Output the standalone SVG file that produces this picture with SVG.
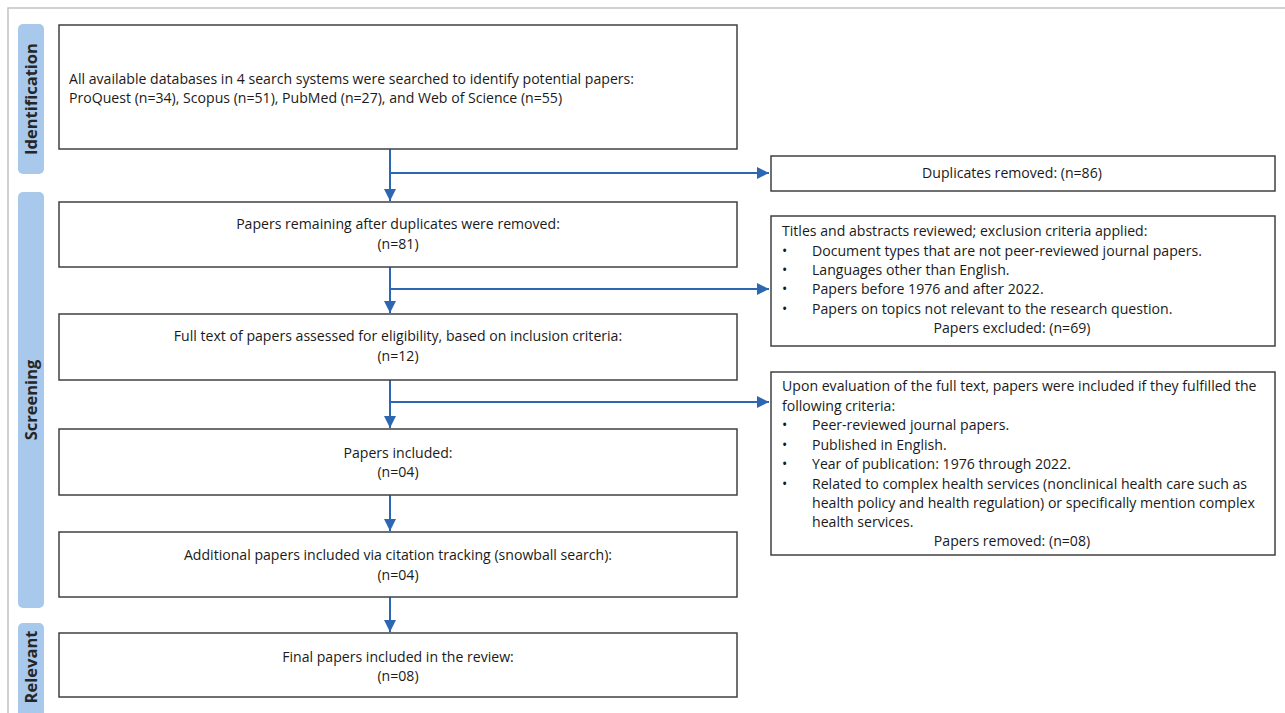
<svg xmlns="http://www.w3.org/2000/svg" width="1285" height="713" viewBox="0 0 1285 713">
<style>
.frame{fill:#fff;stroke:#c4c4c4;stroke-width:1.5}
.bar{fill:#a9c9ec}
.bl{font-family:"Open Sans","Liberation Sans",sans-serif;font-size:16.5px;font-weight:bold;fill:#262626;text-anchor:middle}
.box{fill:#fff;stroke:#404040;stroke-width:1.5}
.t{font-family:"Open Sans","Liberation Sans",sans-serif;font-size:14.1px;fill:#1a1a1a}
.c{text-anchor:middle}
.ln{fill:none;stroke:#2e67b1;stroke-width:2}
</style>
<defs>
<marker id="ah" viewBox="0 0 10 10" refX="10" refY="5" markerWidth="6" markerHeight="6" markerUnits="strokeWidth" orient="auto">
<path d="M0,0 L10,5 L0,10 z" fill="#2e67b1"/>
</marker>
</defs>
<rect class="frame" x="8" y="8" width="1290" height="720"/>
<g id="lane-identification">
<rect class="bar" x="18" y="24" width="26" height="150" rx="5"/>
<text class="bl" transform="translate(37,99) rotate(-90)">Identification</text>
</g>
<g id="lane-screening">
<rect class="bar" x="18" y="192" width="26" height="416" rx="5"/>
<text class="bl" transform="translate(37,400) rotate(-90)">Screening</text>
</g>
<g id="lane-relevant">
<rect class="bar" x="18" y="623" width="26" height="95" rx="5"/>
<text class="bl" transform="translate(37,667) rotate(-90)">Relevant</text>
</g>
<g id="connectors">
<line class="ln" x1="390" y1="149" x2="390" y2="201" marker-end="url(#ah)"/>
<line class="ln" x1="390" y1="173" x2="769" y2="173" marker-end="url(#ah)"/>
<line class="ln" x1="390" y1="267" x2="390" y2="313" marker-end="url(#ah)"/>
<line class="ln" x1="390" y1="289" x2="769" y2="289" marker-end="url(#ah)"/>
<line class="ln" x1="390" y1="380" x2="390" y2="428" marker-end="url(#ah)"/>
<line class="ln" x1="390" y1="402" x2="769" y2="402" marker-end="url(#ah)"/>
<line class="ln" x1="390" y1="495" x2="390" y2="531" marker-end="url(#ah)"/>
<line class="ln" x1="390" y1="597" x2="390" y2="632" marker-end="url(#ah)"/>
</g>
<g id="n-search">
<rect class="box" x="59" y="25" width="678" height="124"/>
<text class="t" x="69" y="84">All available databases in 4 search systems were searched to identify potential papers:</text>
<text class="t" x="69" y="103">ProQuest (n=34), Scopus (n=51), PubMed (n=27), and Web of Science (n=55)</text>
</g>
<g id="n-duplicates">
<rect class="box" x="771" y="156" width="504" height="35"/>
<text class="t c" x="1012" y="178">Duplicates removed: (n=86)</text>
</g>
<g id="n-remaining">
<rect class="box" x="59" y="202" width="678" height="65"/>
<text class="t c" x="398" y="229">Papers remaining after duplicates were removed:</text>
<text class="t c" x="398" y="249">(n=81)</text>
</g>
<g id="n-excluded">
<rect class="box" x="771" y="216" width="504" height="130"/>
<text class="t" x="782" y="236">Titles and abstracts reviewed; exclusion criteria applied:</text>
<text class="t" x="782" y="256">•</text><text class="t" x="812" y="256">Document types that are not peer-reviewed journal papers.</text>
<text class="t" x="782" y="275">•</text><text class="t" x="812" y="275">Languages other than English.</text>
<text class="t" x="782" y="294">•</text><text class="t" x="812" y="294">Papers before 1976 and after 2022.</text>
<text class="t" x="782" y="314">•</text><text class="t" x="812" y="314">Papers on topics not relevant to the research question.</text>
<text class="t c" x="1012" y="333">Papers excluded: (n=69)</text>
</g>
<g id="n-fulltext">
<rect class="box" x="59" y="314" width="678" height="66"/>
<text class="t c" x="398" y="341">Full text of papers assessed for eligibility, based on inclusion criteria:</text>
<text class="t c" x="398" y="361">(n=12)</text>
</g>
<g id="n-criteria">
<rect class="box" x="771" y="372" width="504" height="183"/>
<text class="t" x="782" y="391">Upon evaluation of the full text, papers were included if they fulfilled the</text>
<text class="t" x="782" y="411">following criteria:</text>
<text class="t" x="782" y="430">•</text><text class="t" x="812" y="430">Peer-reviewed journal papers.</text>
<text class="t" x="782" y="450">•</text><text class="t" x="812" y="450">Published in English.</text>
<text class="t" x="782" y="469">•</text><text class="t" x="812" y="469">Year of publication: 1976 through 2022.</text>
<text class="t" x="782" y="489">•</text><text class="t" x="812" y="489">Related to complex health services (nonclinical health care such as</text>
<text class="t" x="812" y="508">health policy and health regulation) or specifically mention complex</text>
<text class="t" x="812" y="527">health services.</text>
<text class="t c" x="1012" y="546">Papers removed: (n=08)</text>
</g>
<g id="n-included">
<rect class="box" x="59" y="429" width="678" height="66"/>
<text class="t c" x="398" y="458">Papers included:</text>
<text class="t c" x="398" y="477">(n=04)</text>
</g>
<g id="n-snowball">
<rect class="box" x="59" y="532" width="678" height="65"/>
<text class="t c" x="398" y="560">Additional papers included via citation tracking (snowball search):</text>
<text class="t c" x="398" y="580">(n=04)</text>
</g>
<g id="n-final">
<rect class="box" x="59" y="633" width="678" height="64"/>
<text class="t c" x="398" y="662">Final papers included in the review:</text>
<text class="t c" x="398" y="681">(n=08)</text>
</g>
</svg>
